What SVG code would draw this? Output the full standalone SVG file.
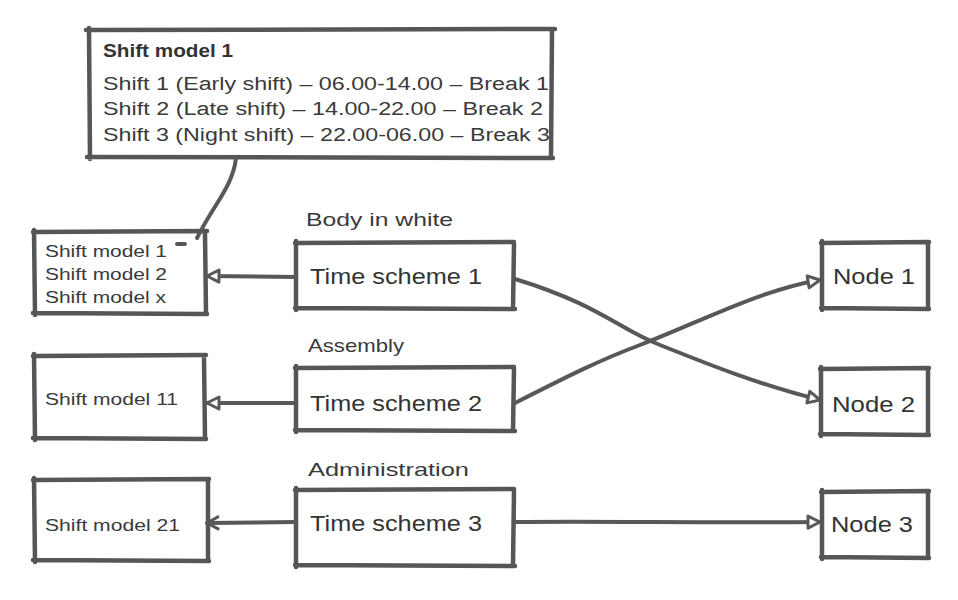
<svg xmlns="http://www.w3.org/2000/svg" width="958" height="600" viewBox="0 0 958 600">
<defs>
<style>
.box{fill:#fff;stroke:none}
.edge{fill:none;stroke:#565656;stroke-width:4.5;stroke-linecap:round;stroke-linejoin:round}
.conn{fill:none;stroke:#585858;stroke-width:4;stroke-linecap:round;stroke-linejoin:round}
text{font-family:"Liberation Sans","DejaVu Sans",sans-serif;fill:#333}
.big{font-size:22px}
.lbl{font-size:19px;fill:#3a3a3a}
.small{font-size:16px;fill:#3a3a3a}
.call{font-size:18px;fill:#3a3a3a}
.bold{font-size:18px;font-weight:bold}
</style>
<marker id="tri" markerUnits="userSpaceOnUse" markerWidth="18" markerHeight="18" refX="14" refY="8" orient="auto">
<path d="M2,2 L14,8 L2,14 Z" fill="#fff" stroke="#585858" stroke-width="3" stroke-linejoin="round"/>
</marker>
<marker id="chev" markerUnits="userSpaceOnUse" markerWidth="18" markerHeight="18" refX="14" refY="8" orient="auto">
<path d="M3,2 L14,8 L3,14" fill="none" stroke="#585858" stroke-width="3" stroke-linejoin="round" stroke-linecap="round"/>
</marker>
</defs>
<rect width="958" height="600" fill="#fff"/>

<g id="callout">
<rect class="box" x="89" y="30" width="463" height="127"/>
<path class="edge" d="M86 30 L555 29 M89 28 L90 159 M552 31 L551 158 M87 157 L553 158"/>
<text class="bold" x="103" y="57" textLength="130" lengthAdjust="spacingAndGlyphs">Shift model 1</text>
<text class="call" x="103" y="90" textLength="446" lengthAdjust="spacingAndGlyphs">Shift 1 (Early shift) – 06.00-14.00 – Break 1</text>
<text class="call" x="103" y="115" textLength="440" lengthAdjust="spacingAndGlyphs">Shift 2 (Late shift) – 14.00-22.00 – Break 2</text>
<text class="call" x="103" y="141" textLength="447" lengthAdjust="spacingAndGlyphs">Shift 3 (Night shift) – 22.00-06.00 – Break 3</text>
</g>

<g id="shiftmodels1">
<rect class="box" x="34" y="232" width="171" height="81"/>
<path class="edge" d="M33 232 L207 231 M34 230 L35 315 M205 233 L206 313 M33 313 L207 314"/>
<text class="small" x="45" y="257" textLength="122" lengthAdjust="spacingAndGlyphs">Shift model 1</text>
<text class="small" x="45" y="280" textLength="122" lengthAdjust="spacingAndGlyphs">Shift model 2</text>
<text class="small" x="45" y="303" textLength="121" lengthAdjust="spacingAndGlyphs">Shift model x</text>
</g>

<g id="shiftmodel11">
<rect class="box" x="34" y="356" width="171" height="82"/>
<path class="edge" d="M33 356 L206 355 M34 354 L35 440 M204 358 L205 438 M33 438 L206 439"/>
<text class="small" x="45" y="405" textLength="133" lengthAdjust="spacingAndGlyphs">Shift model 11</text>
</g>

<g id="shiftmodel21">
<rect class="box" x="34" y="480" width="174" height="80"/>
<path class="edge" d="M33 480 L209 479 M34 478 L35 562 M208 481 L208 560 M33 560 L209 561"/>
<text class="small" x="45" y="531" textLength="135" lengthAdjust="spacingAndGlyphs">Shift model 21</text>
</g>

<g id="timescheme1">
<rect class="box" x="296" y="243" width="217" height="65"/>
<path class="edge" d="M295 243 L514 242 M296 241 L296 310 M514 244 L513 309 M295 308 L515 309"/>
<text class="lbl" x="306" y="226" textLength="147" lengthAdjust="spacingAndGlyphs">Body in white</text>
<text class="big" x="310" y="284" textLength="172" lengthAdjust="spacingAndGlyphs">Time scheme 1</text>
</g>

<g id="timescheme2">
<rect class="box" x="296" y="368" width="217" height="62"/>
<path class="edge" d="M295 368 L514 367 M296 366 L296 432 M514 369 L513 431 M295 430 L515 431"/>
<text class="lbl" x="308" y="352" textLength="96" lengthAdjust="spacingAndGlyphs">Assembly</text>
<text class="big" x="310" y="411" textLength="172" lengthAdjust="spacingAndGlyphs">Time scheme 2</text>
</g>

<g id="timescheme3">
<rect class="box" x="296" y="490" width="217" height="75"/>
<path class="edge" d="M295 490 L514 489 M296 488 L296 567 M514 491 L513 566 M295 565 L515 566"/>
<text class="lbl" x="308" y="476" textLength="161" lengthAdjust="spacingAndGlyphs">Administration</text>
<text class="big" x="310" y="531" textLength="172" lengthAdjust="spacingAndGlyphs">Time scheme 3</text>
</g>

<g id="node1">
<rect class="box" x="822" y="243" width="106" height="65"/>
<path class="edge" d="M821 243 L929 242 M822 241 L822 310 M928 244 L928 308 M821 308 L929 309"/>
<text class="big" x="833" y="284" textLength="82" lengthAdjust="spacingAndGlyphs">Node 1</text>
</g>

<g id="node2">
<rect class="box" x="821" y="369" width="107" height="65"/>
<path class="edge" d="M820 369 L929 368 M821 367 L821 436 M928 370 L928 434 M820 434 L929 435"/>
<text class="big" x="832" y="412" textLength="83" lengthAdjust="spacingAndGlyphs">Node 2</text>
</g>

<g id="node3">
<rect class="box" x="822" y="492" width="106" height="65"/>
<path class="edge" d="M821 492 L929 491 M822 490 L822 559 M928 493 L928 557 M821 557 L929 558"/>
<text class="big" x="831" y="532" textLength="82" lengthAdjust="spacingAndGlyphs">Node 3</text>
</g>

<g id="connectors">
<path class="conn" d="M236 158 C 233 186, 214 204, 197 238"/>
<path class="conn" d="M177 244 L185 244"/>
<path class="conn" d="M296 277 L207 276" marker-end="url(#tri)"/>
<path class="conn" d="M296 403 L207 403" marker-end="url(#tri)"/>
<path class="conn" d="M296 522 L207 523" marker-end="url(#chev)"/>
<path class="conn" d="M515 279 C 600 305, 620 330, 660 345 C 710 365, 760 385, 820 400" marker-end="url(#tri)"/>
<path class="conn" d="M515 403 C 570 375, 600 360, 640 345 C 700 322, 760 290, 820 280" marker-end="url(#tri)"/>
<path class="conn" d="M515 522 C 600 521, 700 523, 820 522" marker-end="url(#tri)"/>
</g>
</svg>
